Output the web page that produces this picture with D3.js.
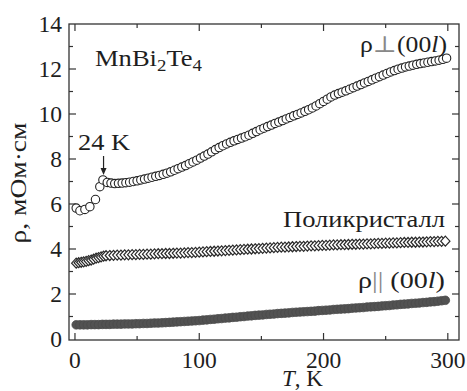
<!DOCTYPE html>
<html>
<head>
<meta charset="utf-8">
<script src="https://cdn.jsdelivr.net/npm/d3@7"></script>
<style>
  html, body { margin: 0; padding: 0; background: #fff; }
  svg { display: block; }
</style>
</head>
<body>
<svg id="chart" width="467" height="391" font-family="'Liberation Serif', 'Times New Roman', 'DejaVu Serif', serif"></svg>
<script>
// Resistivity of MnBi2Te4 vs temperature (three measurements)

// ρ⊥(00l): perpendicular to the layers
const tPerp = [1, 4, 8, 12, 16.5, 20, 22.5,
  26, 29, 32, 35, 38, 41, 44, 47, 50, 53, 56, 59, 62, 65, 68, 71, 74, 77, 80, 83, 86, 89, 92, 95, 98,
  101, 104, 107, 110, 113, 116, 119, 122, 125, 128, 131, 134, 137, 140, 143, 146, 149, 152, 155, 158,
  161, 164, 167, 170, 173, 176, 179, 182, 185, 188, 191, 194, 197, 200, 203, 206, 209, 212, 215, 218,
  221, 224, 227, 230, 233, 236, 239, 242, 245, 248, 251, 254, 257, 260, 263, 266, 269, 272, 275, 278,
  281, 284, 287, 290, 293, 296, 299];
const rhoPerp = [5.82, 5.70, 5.76, 5.88, 6.20, 6.77, 7.07,
  6.96, 6.93, 6.91, 6.92, 6.93, 6.95, 6.97, 7.00, 7.03, 7.07, 7.11, 7.15, 7.19, 7.23, 7.27, 7.32, 7.37, 7.43, 7.50, 7.57, 7.64, 7.71, 7.79, 7.87, 7.95,
  8.04, 8.13, 8.22, 8.32, 8.42, 8.51, 8.59, 8.67, 8.74, 8.81, 8.87, 8.93, 8.99, 9.06, 9.14, 9.22, 9.30, 9.37, 9.44, 9.51,
  9.58, 9.64, 9.71, 9.78, 9.85, 9.92, 9.98, 10.05, 10.12, 10.19, 10.27, 10.36, 10.46, 10.56, 10.66, 10.76, 10.84, 10.91, 10.97, 11.03,
  11.10, 11.17, 11.24, 11.31, 11.38, 11.45, 11.52, 11.59, 11.66, 11.73, 11.80, 11.87, 11.93, 11.99, 12.04, 12.09, 12.13, 12.17, 12.21, 12.24,
  12.27, 12.30, 12.33, 12.36, 12.39, 12.43, 12.48];

// Polycrystalline sample
const tPoly = [1, 3, 5, 7, 9, 11, 13, 15, 17, 19, 21, 23,
  25, 28, 31, 34, 37, 40, 43, 46, 49, 52, 55, 58, 61, 64, 67, 70, 73, 76, 79, 82, 85, 88, 91, 94, 97,
  100, 103, 106, 109, 112, 115, 118, 121, 124, 127, 130, 133, 136, 139, 142, 145, 148, 151, 154, 157,
  160, 163, 166, 169, 172, 175, 178, 181, 184, 187, 190, 193, 196, 199, 202, 205, 208, 211, 214, 217,
  220, 223, 226, 229, 232, 235, 238, 241, 244, 247, 250, 253, 256, 259, 262, 265, 268, 271, 274, 277,
  280, 283, 286, 289, 292, 295, 298];
const rhoPoly = [3.37, 3.39, 3.41, 3.43, 3.45, 3.48, 3.51, 3.55, 3.59, 3.62, 3.65, 3.68,
  3.70, 3.71, 3.72, 3.73, 3.73, 3.74, 3.74, 3.75, 3.75, 3.76, 3.76, 3.77, 3.77, 3.78, 3.79, 3.79, 3.80, 3.80, 3.81, 3.82, 3.82, 3.83, 3.84, 3.84, 3.85,
  3.86, 3.87, 3.88, 3.89, 3.90, 3.91, 3.92, 3.93, 3.94, 3.95, 3.96, 3.97, 3.98, 3.99, 4.00, 4.01, 4.02, 4.03, 4.04, 4.05,
  4.06, 4.07, 4.08, 4.08, 4.09, 4.10, 4.11, 4.12, 4.12, 4.13, 4.14, 4.14, 4.15, 4.16, 4.16, 4.17, 4.18, 4.18, 4.19, 4.19,
  4.20, 4.21, 4.21, 4.22, 4.22, 4.23, 4.23, 4.24, 4.25, 4.25, 4.26, 4.26, 4.27, 4.27, 4.28, 4.29, 4.29, 4.30, 4.30, 4.31,
  4.31, 4.32, 4.33, 4.33, 4.34, 4.34, 4.35];

// ρ||(00l): in the plane of the layers
const tPar = [1, 4, 7, 10, 13, 16, 19, 22, 25, 28, 31, 34, 37, 40, 43, 46, 49, 52, 55, 58,
  61, 64, 67, 70, 73, 76, 79, 82, 85, 88, 91, 94, 97, 100, 103, 106, 109, 112, 115, 118,
  121, 124, 127, 130, 133, 136, 139, 142, 145, 148, 151, 154, 157, 160, 163, 166, 169, 172, 175, 178,
  181, 184, 187, 190, 193, 196, 199, 202, 205, 208, 211, 214, 217, 220, 223, 226, 229, 232, 235, 238,
  241, 244, 247, 250, 253, 256, 259, 262, 265, 268, 271, 274, 277, 280, 283, 286, 289, 292, 295, 298];
const rhoPar = [0.63, 0.63, 0.63, 0.63, 0.64, 0.64, 0.64, 0.65, 0.65, 0.65, 0.66, 0.66, 0.66, 0.67, 0.67, 0.67, 0.68, 0.68, 0.69, 0.69,
  0.70, 0.71, 0.71, 0.72, 0.73, 0.74, 0.75, 0.76, 0.77, 0.78, 0.79, 0.80, 0.81, 0.82, 0.84, 0.85, 0.87, 0.88, 0.90, 0.91,
  0.93, 0.94, 0.96, 0.97, 0.99, 1.00, 1.02, 1.03, 1.05, 1.06, 1.07, 1.09, 1.10, 1.11, 1.13, 1.14, 1.15, 1.16, 1.18, 1.19,
  1.20, 1.21, 1.22, 1.23, 1.24, 1.26, 1.27, 1.28, 1.29, 1.31, 1.32, 1.33, 1.34, 1.35, 1.37, 1.38, 1.39, 1.40, 1.42, 1.43,
  1.44, 1.45, 1.47, 1.48, 1.49, 1.51, 1.52, 1.54, 1.55, 1.56, 1.58, 1.59, 1.60, 1.62, 1.63, 1.65, 1.66, 1.68, 1.70, 1.72];

const xTicks = [0, 100, 200, 300];
const xMinorTicks = [50, 150, 250];
const yTicks = [0, 2, 4, 6, 8, 10, 12, 14];
const yMinorTicks = [1, 3, 5, 7, 9, 11, 13];

const svg = d3.select("#chart");
const plotLeft = 69, plotRight = 459, plotTop = 24, plotBottom = 340;

const x = d3.scaleLinear().domain([-4.8, 309]).range([plotLeft, plotRight]);
const y = d3.scaleLinear().domain([0, 14]).range([339, 24]);

const axisColor = "#333";
const textColor = "#1e1e1e";
const g = svg.append("g");

// frame
g.append("rect")
  .attr("x", plotLeft).attr("y", plotTop)
  .attr("width", plotRight - plotLeft).attr("height", plotBottom - plotTop)
  .attr("fill", "none").attr("stroke", axisColor).attr("stroke-width", 1.3);

// inward ticks on all four sides
function ticksX(vals, len) {
  vals.forEach(v => {
    g.append("line").attr("x1", x(v)).attr("x2", x(v)).attr("y1", plotBottom).attr("y2", plotBottom - len)
      .attr("stroke", axisColor).attr("stroke-width", 1.2);
    g.append("line").attr("x1", x(v)).attr("x2", x(v)).attr("y1", plotTop).attr("y2", plotTop + len)
      .attr("stroke", axisColor).attr("stroke-width", 1.2);
  });
}
function ticksY(vals, len) {
  vals.forEach(v => {
    g.append("line").attr("x1", plotLeft).attr("x2", plotLeft + len).attr("y1", y(v)).attr("y2", y(v))
      .attr("stroke", axisColor).attr("stroke-width", 1.2);
    g.append("line").attr("x1", plotRight).attr("x2", plotRight - len).attr("y1", y(v)).attr("y2", y(v))
      .attr("stroke", axisColor).attr("stroke-width", 1.2);
  });
}
ticksX(xTicks, 7);
ticksX(xMinorTicks, 4);
ticksY(yTicks.filter(v => v > 0 && v < 14), 7);
ticksY(yMinorTicks, 4);

// tick labels
g.selectAll(".xl").data(xTicks).enter().append("text")
  .attr("x", d => x(d)).attr("y", 368)
  .attr("text-anchor", "middle").attr("font-size", 23.5).attr("fill", textColor)
  .text(d => d);
g.selectAll(".yl").data(yTicks).enter().append("text")
  .attr("x", 62).attr("y", d => y(d) + 8)
  .attr("text-anchor", "end").attr("font-size", 23.5).attr("fill", textColor)
  .text(d => d);

// axis titles
const xt = svg.append("text").attr("x", 282).attr("y", 386).attr("font-size", 23).attr("fill", textColor);
xt.append("tspan").attr("font-style", "italic").text("T");
xt.append("tspan").text(", K");

svg.append("text")
  .attr("transform", "translate(26,183) rotate(-90)")
  .attr("text-anchor", "middle").attr("font-size", 23).attr("fill", textColor)
  .attr("textLength", 121).attr("lengthAdjust", "spacingAndGlyphs")
  .text("ρ, мОм·см");

// ρ|| series: filled dark circles
const par = tPar.map((t, i) => ({ t, r: rhoPar[i] }));
g.selectAll(".par").data(par).enter().append("circle")
  .attr("cx", d => x(d.t)).attr("cy", d => y(d.r)).attr("r", 4.3)
  .attr("fill", "#525252").attr("stroke", "#4a4a4a").attr("stroke-width", 0.8);

// polycrystal: open diamonds
const poly = tPoly.map((t, i) => ({ t, r: rhoPoly[i] }));
const diamond = "M0,-5L4.6,0L0,5L-4.6,0Z";
g.selectAll(".poly").data(poly).enter().append("path")
  .attr("d", diamond)
  .attr("transform", d => `translate(${x(d.t)},${y(d.r)})`)
  .attr("fill", "#fff").attr("stroke", "#2a2a2a").attr("stroke-width", 1.2);

// ρ⊥ series: open circles
const perp = tPerp.map((t, i) => ({ t, r: rhoPerp[i] }));
g.selectAll(".perp").data(perp).enter().append("circle")
  .attr("cx", d => x(d.t)).attr("cy", d => y(d.r)).attr("r", 4.2)
  .attr("fill", "#fff").attr("stroke", "#222").attr("stroke-width", 1.1);

// annotations
const title = svg.append("text").attr("x", 95).attr("y", 66).attr("font-size", 22.5)
  .attr("fill", textColor).attr("textLength", 107).attr("lengthAdjust", "spacingAndGlyphs");
title.append("tspan").text("MnBi");
title.append("tspan").attr("font-size", 16).attr("dy", 5).text("2");
title.append("tspan").attr("dy", -5).text("Te");
title.append("tspan").attr("font-size", 16).attr("dy", 5).text("4");

const lp = svg.append("text").attr("x", 360).attr("y", 52).attr("font-size", 23)
  .attr("fill", textColor).attr("textLength", 87).attr("lengthAdjust", "spacingAndGlyphs");
lp.append("tspan").text("ρ");
lp.append("tspan").attr("fill", "#888").text("⊥");
lp.append("tspan").text("(00");
lp.append("tspan").attr("font-style", "italic").text("l");
lp.append("tspan").text(")");

svg.append("text").attr("x", 283).attr("y", 227).attr("font-size", 23)
  .attr("fill", textColor).attr("textLength", 162).attr("lengthAdjust", "spacingAndGlyphs")
  .text("Поликристалл");

const lq = svg.append("text").attr("x", 358).attr("y", 288).attr("font-size", 23)
  .attr("fill", textColor).attr("textLength", 87).attr("lengthAdjust", "spacingAndGlyphs");
lq.append("tspan").text("ρ");
lq.append("tspan").attr("fill", "#888").text("||");
lq.append("tspan").text(" (00");
lq.append("tspan").attr("font-style", "italic").text("l");
lq.append("tspan").text(")");

svg.append("text").attr("x", 78).attr("y", 150).attr("font-size", 23)
  .attr("fill", textColor).attr("textLength", 52).attr("lengthAdjust", "spacingAndGlyphs")
  .text("24 K");

// arrow marking the transition
const ax = x(23);
svg.append("line").attr("x1", ax).attr("x2", ax).attr("y1", 156).attr("y2", 170)
  .attr("stroke", "#222").attr("stroke-width", 1.2);
svg.append("path")
  .attr("d", `M${ax - 3},${168}L${ax + 3},${168}L${ax},${175}Z`)
  .attr("fill", "#222");
</script>
</body>
</html>
